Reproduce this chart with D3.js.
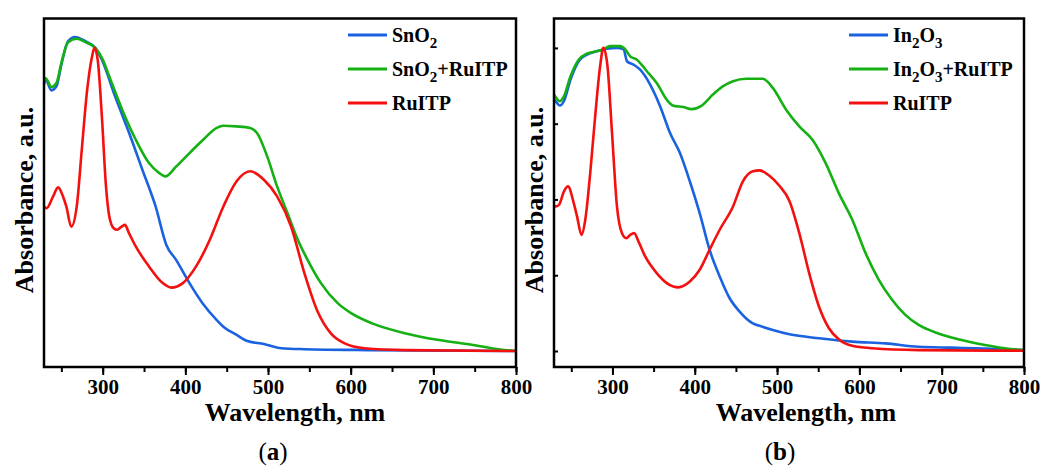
<!DOCTYPE html>
<html>
<head>
<meta charset="utf-8">
<script src="https://cdn.jsdelivr.net/npm/d3@7"></script>
<style>
  body { margin: 0; background: #fff; }
  svg text { font-family: "Liberation Serif", "Times New Roman", serif; fill: #000; }
</style>
</head>
<body>
<svg id="chart" width="1042" height="467"></svg>
<script>
// wavelength (nm) / absorbance (a.u., normalised)
var aBlueX = [229,231,238,244,250,258,266.5,279,291,299,315,332,348,364,377,389,405,421,438,446,462,474,495,516,544,626,800];
var aBlueY = [0.88,0.895,0.86,0.873,0.945,1.022,1.036,1.022,1.0,0.961,0.84,0.719,0.598,0.477,0.35,0.30,0.224,0.157,0.102,0.08,0.053,0.034,0.023,0.009,0.006,0.003,0.0];

var aGreenX = [229,231,238,244,250,258,268.6,279,291,299,311,323.6,340,356,368.5,375.8,389,405,421.5,438,446,462,478.5,486.7,499,511,523.5,536,548,564,584.6,601,626,666.7,707,748,780.5,800];
var aGreenY = [0.9,0.90,0.871,0.884,0.95,1.018,1.03,1.019,1.0,0.967,0.884,0.796,0.697,0.62,0.587,0.576,0.609,0.653,0.697,0.736,0.743,0.741,0.736,0.719,0.642,0.543,0.455,0.367,0.30,0.224,0.157,0.124,0.091,0.058,0.036,0.02,0.005,0.0];

var aRedX = [229,232,240,246,252,256,262,268.6,274.7,280.8,287,290,294,299,304,308,313.4,317.5,322.8,327,331.8,340,356,372.6,383,397,413,429.6,446,462,478.5,495,511,528,544,560,576,592.8,617,666,800];
var aRedY = [0.477,0.471,0.51,0.54,0.51,0.477,0.41,0.477,0.664,0.851,0.97,1.0,0.96,0.774,0.543,0.444,0.405,0.40,0.41,0.416,0.389,0.345,0.279,0.224,0.209,0.224,0.279,0.367,0.477,0.56,0.593,0.565,0.51,0.41,0.257,0.13,0.058,0.025,0.009,0.003,0.0];

var bBlueX = [229,231,236,241,249,259,269,281,293,305.5,313.6,317.6,325.6,333.7,345.8,358,370,382,394,406,418,430.3,442.4,454.5,470.6,478.7,494.8,515,551,591.4,631.7,672,712,752.5,800];
var bBlueY = [0.83,0.824,0.81,0.824,0.895,0.956,0.978,0.989,0.997,1.0,0.995,0.956,0.945,0.928,0.879,0.807,0.719,0.653,0.56,0.455,0.334,0.246,0.174,0.13,0.091,0.083,0.069,0.055,0.042,0.031,0.025,0.014,0.011,0.008,0.003];

var bGreenX = [229,231,236,241,249,259,269,281,289,297,309.5,315.6,321.6,329.7,341.8,353.8,366,374,386,396,408,422,434,446.5,462.5,482.7,494.8,511,527,543,559,575,591.4,607.5,623.6,639.7,655.8,672,696,720,752.5,776.6,800];
var bGreenY = [0.845,0.838,0.824,0.84,0.906,0.961,0.981,0.989,0.995,1.006,1.006,0.995,0.972,0.961,0.923,0.884,0.829,0.809,0.805,0.798,0.809,0.846,0.873,0.89,0.898,0.898,0.868,0.796,0.741,0.697,0.62,0.521,0.433,0.323,0.235,0.169,0.119,0.086,0.058,0.039,0.02,0.009,0.003];

var bRedX = [229,231,235,241,246,253,257,262.4,267,273,279,285,289,294,299.5,305.5,311.5,316.8,321.6,326.4,331.7,339.8,353.8,366,380,394,406,418,430.3,446.5,458.5,470.6,478.7,490.7,502.8,515,527,539,551,563,576,591.4,615.6,672,800];
var bRedY = [0.48,0.477,0.482,0.526,0.543,0.488,0.444,0.383,0.433,0.587,0.774,0.939,1.0,0.939,0.719,0.477,0.389,0.372,0.383,0.389,0.361,0.312,0.257,0.224,0.21,0.229,0.268,0.334,0.40,0.477,0.56,0.593,0.596,0.578,0.545,0.495,0.389,0.257,0.146,0.075,0.036,0.017,0.009,0.003,0.001];

var xTicks = [300, 400, 500, 600, 700, 800];
var colors = { blue: "#1a62e0", green: "#14b014", red: "#f51010" };

var svg = d3.select("#chart");

function drawPanel(p) {
  var x = d3.scaleLinear().domain([229, 800]).range([p.left, p.right]);
  var y = d3.scaleLinear().domain([-0.0528, 1.097]).range([367, 18.5]);
  var g = svg.append("g");

  // bottom axis, labels every 100 and minor ticks every 50
  g.append("g")
    .attr("transform", "translate(0,367)")
    .call(d3.axisBottom(x).tickValues(d3.range(250, 801, 50)).tickSize(5).tickFormat(""))
    .call(function(a) { a.select(".domain").remove(); a.selectAll("line").attr("stroke-width", 2); });
  g.append("g")
    .attr("transform", "translate(0,367)")
    .call(d3.axisBottom(x).tickValues(xTicks).tickSize(8).tickPadding(4).tickFormat(d3.format("d")))
    .call(function(a) {
      a.select(".domain").remove();
      a.selectAll("line").attr("stroke-width", 2);
      a.selectAll("text").attr("font-size", 21).attr("font-weight", "bold")
        .attr("font-family", "Liberation Serif");
    });

  if (p.yTicks) {
    g.append("g")
      .attr("transform", "translate(" + p.left + ",0)")
      .call(d3.axisRight(y).tickValues([0, 0.25, 0.5, 0.75, 1]).tickSize(4).tickFormat(""))
      .call(function(a) { a.select(".domain").remove(); a.selectAll("line").attr("stroke-width", 2); });
  }

  var line = d3.line()
    .x(function(d) { return x(d[0]); })
    .y(function(d) { return y(d[1]); })
    .curve(d3.curveMonotoneX);

  p.series.forEach(function(s) {
    g.append("path")
      .datum(d3.zip(s.xs, s.ys))
      .attr("fill", "none")
      .attr("stroke", s.color)
      .attr("stroke-width", 2.6)
      .attr("stroke-linejoin", "round")
      .attr("d", line);
  });

  g.append("rect")
    .attr("x", p.left).attr("y", 18.5)
    .attr("width", p.right - p.left).attr("height", 367 - 18.5)
    .attr("fill", "none").attr("stroke", "#000").attr("stroke-width", 2.5);

  // legend
  p.legend.forEach(function(l, i) {
    var ly = 35 + i * 34;
    g.append("line")
      .attr("x1", p.legX).attr("x2", p.legX + 39)
      .attr("y1", ly).attr("y2", ly)
      .attr("stroke", l.color).attr("stroke-width", 3);
    var t = g.append("text")
      .attr("x", p.legX + 44).attr("y", ly + 7)
      .attr("font-size", 20).attr("font-weight", "bold");
    l.parts.forEach(function(part) {
      if (part.sub) {
        t.append("tspan").attr("font-size", 15).attr("dy", 6).text(part.t);
      } else {
        t.append("tspan").attr("dy", part.up ? -6 : 0).text(part.t);
      }
    });
  });

  svg.append("text")
    .attr("x", p.xLabelX).attr("y", 421)
    .attr("text-anchor", "middle").attr("font-size", 26).attr("font-weight", "bold")
    .text("Wavelength, nm");

  svg.append("text")
    .attr("transform", "translate(" + p.yLabelX + ",200) rotate(-90)")
    .attr("text-anchor", "middle").attr("font-size", 26).attr("font-weight", "bold")
    .text("Absorbance, a.u.");

  var cap = svg.append("text")
    .attr("x", p.capX).attr("y", 460)
    .attr("text-anchor", "middle").attr("font-size", 25);
  cap.append("tspan").text("(");
  cap.append("tspan").attr("font-weight", "bold").text(p.cap);
  cap.append("tspan").text(")");
}

drawPanel({
  left: 44, right: 516, legX: 348, xLabelX: 295, yLabelX: 33, capX: 273, cap: "a",
  yTicks: false,
  series: [
    { xs: aBlueX, ys: aBlueY, color: colors.blue },
    { xs: aGreenX, ys: aGreenY, color: colors.green },
    { xs: aRedX, ys: aRedY, color: colors.red }
  ],
  legend: [
    { color: colors.blue, parts: [{ t: "SnO" }, { t: "2", sub: true }] },
    { color: colors.green, parts: [{ t: "SnO" }, { t: "2", sub: true }, { t: "+RuITP", up: true }] },
    { color: colors.red, parts: [{ t: "RuITP" }] }
  ]
});

drawPanel({
  left: 554, right: 1024, legX: 849, xLabelX: 806, yLabelX: 543, capX: 780, cap: "b",
  yTicks: true,
  series: [
    { xs: bBlueX, ys: bBlueY, color: colors.blue },
    { xs: bGreenX, ys: bGreenY, color: colors.green },
    { xs: bRedX, ys: bRedY, color: colors.red }
  ],
  legend: [
    { color: colors.blue, parts: [{ t: "In" }, { t: "2", sub: true }, { t: "O", up: true }, { t: "3", sub: true }] },
    { color: colors.green, parts: [{ t: "In" }, { t: "2", sub: true }, { t: "O", up: true }, { t: "3", sub: true }, { t: "+RuITP", up: true }] },
    { color: colors.red, parts: [{ t: "RuITP" }] }
  ]
});
</script>
</body>
</html>
